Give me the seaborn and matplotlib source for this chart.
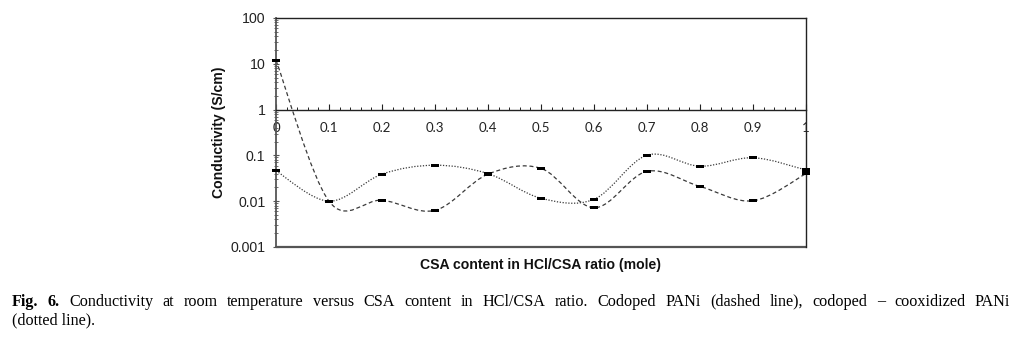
import numpy as np
import pandas as pd
import matplotlib
matplotlib.use("Agg")
import matplotlib.pyplot as plt
import seaborn as sns
from matplotlib.path import Path
from matplotlib.patches import PathPatch
from matplotlib.ticker import MultipleLocator, FixedLocator, LogLocator, NullFormatter

# ---------------- data ----------------
csa_content = [0.0, 0.1, 0.2, 0.3, 0.4, 0.5, 0.6, 0.7, 0.8, 0.9, 1.0]
codoped = [12.0, 0.010, 0.0105, 0.0063, 0.039, 0.052, 0.0072, 0.045, 0.021, 0.0102, 0.040]
cooxidized = [0.046, 0.010, 0.039, 0.061, 0.040, 0.0116, 0.011, 0.101, 0.058, 0.089, 0.048]
x_ticks = [0.0, 0.1, 0.2, 0.3, 0.4, 0.5, 0.6, 0.7, 0.8, 0.9, 1.0]
x_tick_labels = ["0", "0.1", "0.2", "0.3", "0.4", "0.5", "0.6", "0.7", "0.8", "0.9", "1"]
y_ticks = [0.001, 0.01, 0.1, 1, 10, 100]
y_tick_labels = ["0.001", "0.01", "0.1", "1", "10", "100"]
x_label = "CSA content in HCl/CSA ratio (mole)"
y_label = "Conductivity (S/cm)"
caption_bold = ["Fig.", "6."]
caption_line1 = ("Conductivity at room temperature versus CSA content in HCl/CSA ratio. "
                 "Codoped PANi (dashed line), codoped \u2013 cooxidized PANi").split(" ")
caption_line2 = "(dotted line)."

# ---------------- style ----------------
sns.set_style("white")
plt.rcParams["font.family"] = ["Liberation Sans", "DejaVu Sans"]

W, H, DPI = 1020, 342, 100
fig = plt.figure(figsize=(W / DPI, H / DPI), dpi=DPI)
fig.patch.set_facecolor("white")
L, R, T, B = 276, 806, 18, 247
ax = fig.add_axes([L / W, 1 - B / H, (R - L) / W, (B - T) / H])
ax.set_yscale("log")
ax.set_xlim(0, 1)
ax.set_ylim(1e-3, 100)


def smooth_path(x, y):
    """Excel-like smoothed line: cubic Bezier segments with control points
    derived from neighbouring data points, in (x, log10 y) space."""
    pts = np.column_stack([np.asarray(x, float), np.log10(np.asarray(y, float))])
    n = len(pts)
    verts = [pts[0]]
    codes = [Path.MOVETO]
    for i in range(n - 1):
        p0 = pts[max(i - 1, 0)]
        p1 = pts[i]
        p2 = pts[i + 1]
        p3 = pts[min(i + 2, n - 1)]
        c1 = p1 + (p2 - p0) / 6.0
        c2 = p2 - (p3 - p1) / 6.0
        verts += [c1, c2, p2]
        codes += [Path.CURVE4] * 3
    v = np.array(verts)
    v[:, 1] = 10 ** v[:, 1]
    return Path(v, codes)


line_col = "#3a3a3a"
ax.add_patch(PathPatch(smooth_path(csa_content, codoped), fill=False,
                       edgecolor=line_col, lw=0.9, linestyle=(0, (3.2, 2.2)),
                       clip_on=False, zorder=2))
ax.add_patch(PathPatch(smooth_path(csa_content, cooxidized), fill=False,
                       edgecolor=line_col, lw=0.9, linestyle=(0, (1.0, 1.3)),
                       clip_on=False, zorder=2))

df = pd.DataFrame({
    "x": csa_content * 2,
    "y": codoped + cooxidized,
    "series": ["Codoped PANi"] * len(codoped) + ["Codoped - cooxidized PANi"] * len(cooxidized),
})
rect_marker = [(-1, -0.42), (1, -0.42), (1, 0.42), (-1, 0.42), (-1, -0.42)]
sns.scatterplot(data=df, x="x", y="y", hue="series", palette=["black", "black"],
                marker=rect_marker, s=30, linewidth=0, legend=False, ax=ax,
                clip_on=False, zorder=3)

# ---------------- axes ----------------
frame_col = "#222222"
for side in ["top", "right", "left", "bottom"]:
    ax.spines[side].set_visible(True)
    ax.spines[side].set_color(frame_col)
    ax.spines[side].set_linewidth(1.0)
ax.spines["left"].set_color("#555555")
ax.spines["left"].set_linewidth(1.3)
ax.spines["bottom"].set_position(("data", 1))
ax.axhline(1e-3, color="#555555", lw=1.6, clip_on=False, zorder=1)

ax.xaxis.set_major_locator(FixedLocator(x_ticks))
ax.set_xticklabels(x_tick_labels)
ax.xaxis.set_minor_locator(MultipleLocator(0.02))
ax.tick_params(axis="x", which="major", direction="in", length=4, width=0.8,
               color=frame_col, pad=9, labelsize=9.5, bottom=True, top=False)
ax.tick_params(axis="x", which="minor", direction="in", length=2.5, width=0.7,
               color=frame_col, bottom=True, top=False)
for lab in ax.get_xticklabels():
    lab.set_fontfamily(["Lato", "DejaVu Sans"])
    lab.set_color("#222222")

ax.yaxis.set_major_locator(FixedLocator(y_ticks))
ax.set_yticklabels(y_tick_labels)
ax.yaxis.set_minor_locator(LogLocator(base=10, subs=np.arange(2, 10)))
ax.yaxis.set_minor_formatter(NullFormatter())
ax.tick_params(axis="y", which="major", direction="inout", length=5, width=0.8,
               color="#555555", pad=5, labelsize=10.2, left=True, right=False)
ax.tick_params(axis="y", which="minor", direction="inout", length=2.5, width=0.6,
               color="#555555", left=True, right=False)
for lab in ax.get_yticklabels():
    lab.set_color("#222222")

ax.set_xlabel(x_label, fontsize=10.1, fontweight="bold", va="center", color="#111111")
ax.xaxis.set_label_coords(0.5, (B - 265) / (B - T))
ax.set_ylabel(y_label, fontsize=10.1, fontweight="bold", va="center", ha="center",
              color="#111111")
ax.yaxis.set_label_coords((219 - L) / (R - L), 0.5)

# ---------------- caption (justified first line) ----------------
renderer = fig.canvas.get_renderer()
cap_size = 11.6
serif = ["Liberation Serif", "DejaVu Serif"]
words = [(w, "bold") for w in caption_bold] + [(w, "normal") for w in caption_line1]
base1 = 1 - 305.5 / H
texts = [fig.text(0, base1, w, fontsize=cap_size, family=serif, fontweight=wt,
                  va="baseline", ha="left", color="black") for w, wt in words]
widths = [t.get_window_extent(renderer).width for t in texts]
x0, x1 = 12, 1010
gap = (x1 - x0 - sum(widths)) / (len(texts) - 1)
xpos = x0
for t, wd in zip(texts, widths):
    t.set_x(xpos / W)
    xpos += wd + gap
fig.text(x0 / W, 1 - 324.5 / H, caption_line2, fontsize=cap_size, family=serif,
         va="baseline", ha="left", color="black")

fig.savefig("out.png", dpi=DPI, facecolor="white")
